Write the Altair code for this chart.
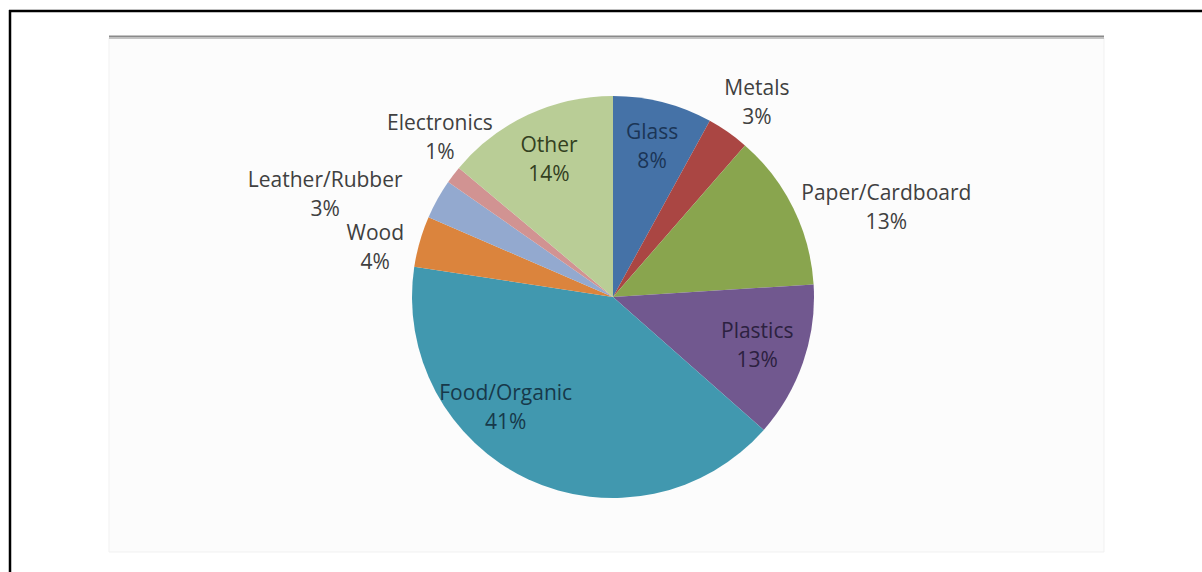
import altair as alt
import pandas as pd

# ---- data ----
categories = ["Glass", "Metals", "Paper/Cardboard", "Plastics", "Food/Organic",
              "Wood", "Leather/Rubber", "Electronics", "Other"]
values = [8.0, 3.4, 12.6, 12.5, 40.9, 4.1, 3.2, 1.4, 13.9]
pct_labels = ["8%", "3%", "13%", "13%", "41%", "4%", "3%", "1%", "14%"]

# ---- styling / layout (not data) ----
colors = ["#4572A7", "#AA4643", "#89A54E", "#71588F", "#4198AF",
          "#DB843D", "#93A9CF", "#D19392", "#B9CD96"]
label_colors = ["#1B3556", "#404040", "#404040", "#2C2140", "#17394A",
                "#404040", "#404040", "#404040", "#33401F"]
label_radius = [156, 243, 288, 152, 153, 243, 306, 236, 153]
label_nudge = [0.1, 1.4, 7.9, -0.5, 19.5, -4.1, -9.3, 5.4, 0.3]

W, H = 1202, 572
CX, CY, R = 613, 297, 201
FONT = "Open Sans"
LINE_H = 29

df = pd.DataFrame({
    "category": categories,
    "value": values,
    "pct": pct_labels,
    "idx": list(range(len(categories))),
    "lcolor": label_colors,
    "lr": label_radius,
    "nudge": label_nudge,
})
df["label"] = df["category"] + "\n" + df["pct"]

deco = pd.DataFrame({"d": [0]})

frame = alt.Chart(deco).mark_rect(fill="#fcfcfc", stroke="#f1f1f1", strokeWidth=1).encode(
    x=alt.value(109), x2=alt.value(1104), y=alt.value(38), y2=alt.value(552)
)
topline = alt.Chart(deco).mark_rule(color="#8a8a8a", strokeWidth=2).encode(
    x=alt.value(109), x2=alt.value(1104), y=alt.value(36.5)
)
topline2 = alt.Chart(deco).mark_rule(color="#c4c4c4", strokeWidth=1).encode(
    x=alt.value(109), x2=alt.value(1104), y=alt.value(38.5)
)
border_top = alt.Chart(deco).mark_rule(color="#000000", strokeWidth=2.5).encode(
    x=alt.value(9), x2=alt.value(W), y=alt.value(11)
)
border_left = alt.Chart(deco).mark_rule(color="#000000", strokeWidth=2.5).encode(
    x=alt.value(10), y=alt.value(10), y2=alt.value(H)
)

pie = alt.Chart(df).mark_arc(outerRadius=R).encode(
    theta=alt.Theta("value:Q", stack=True),
    order=alt.Order("idx:Q"),
    color=alt.Color("category:N", sort=categories,
                    scale=alt.Scale(domain=categories, range=colors), legend=None),
    x=alt.value(CX), y=alt.value(CY),
)

labels = alt.Chart(df).transform_joinaggregate(
    total="sum(value)"
).transform_window(
    cum="sum(value)", sort=[alt.SortField("idx")], frame=[None, 0]
).transform_calculate(
    ang="((datum.cum - datum.value / 2) / datum.total * 360 + datum.nudge) * PI / 180"
).transform_calculate(
    px=f"{CX} + datum.lr * sin(datum.ang)",
    py=f"{CY} - datum.lr * cos(datum.ang)",
).mark_text(font=FONT, fontSize=21, lineBreak="\n", lineHeight=LINE_H,
            align="center", baseline="middle", dy=-12.5).encode(
    x=alt.X("px:Q", scale=None),
    y=alt.Y("py:Q", scale=None),
    text="label:N",
    color=alt.Color("lcolor:N", scale=None),
)

chart = alt.layer(frame, topline, topline2, border_top, border_left, pie, labels).properties(
    width=W, height=H, padding=0, autosize=alt.AutoSizeParams(type="none"),
    background="#ffffff",
).configure_view(stroke=None)

chart.save("out.html", embed_options={"renderer": "svg", "actions": False})
